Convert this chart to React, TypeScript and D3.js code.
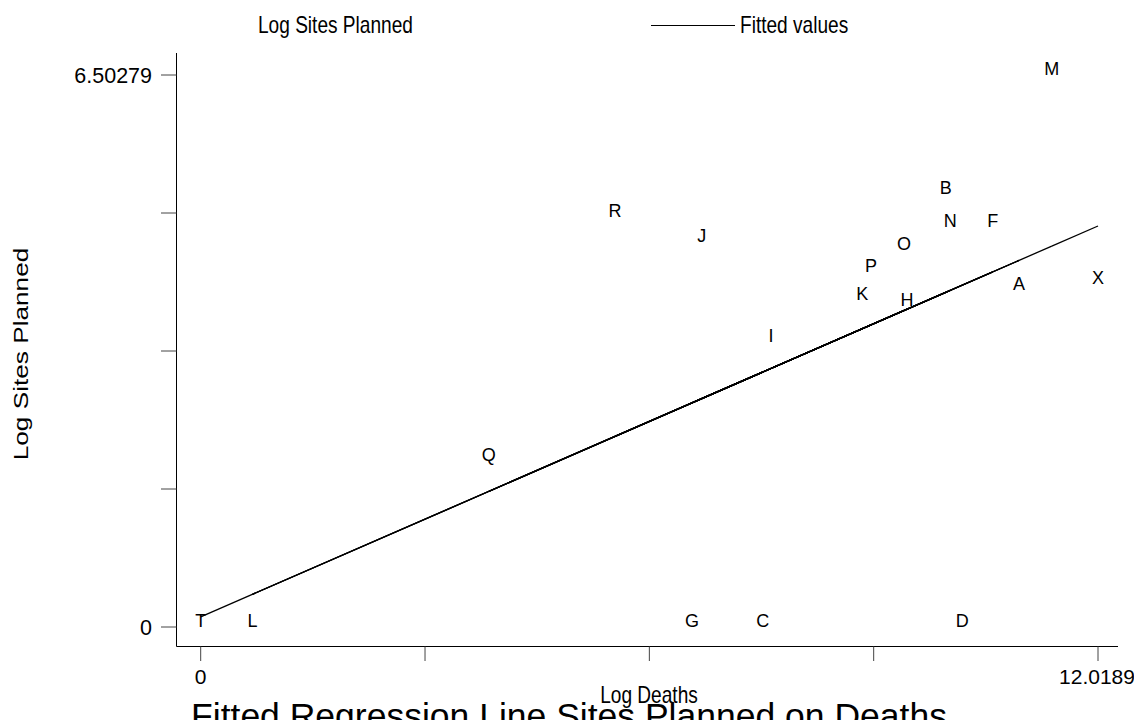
import React from "react";
import * as d3 from "d3";

// Observations in dataset row order (the fitted line is connected in this order)
const names = ["T", "F", "D", "Q", "B", "G", "N", "R", "O", "J", "H", "C", "P", "I", "K", "A", "L", "M", "X"];
const logDeaths = [0, 10.61, 10.2, 3.86, 9.98, 6.58, 10.04, 5.55, 9.42, 6.71, 9.46, 7.53, 8.98, 7.64, 8.86, 10.96, 0.693, 11.4, 12.0189];
const logSites = [0, 4.71, 0, 1.946, 5.1, 0, 4.71, 4.82, 4.43, 4.535, 3.78, 0, 4.18, 3.357, 3.852, 3.96, 0, 6.50279, 4.04];

const xTickLabels = ["0", "12.0189"];
const yTickLabels = ["0", "6.50279"];

const title = "Fitted Regression Line Sites Planned on Deaths";
const xTitle = "Log Deaths";
const yTitle = "Log Sites Planned";
const legendItems = ["Log Sites Planned", "Fitted values"];

const W = 1134;
const H = 720;
const FONT = "'Liberation Sans', Arial, Helvetica, sans-serif";
// the graph's text is set in a slightly condensed face
const SQUASH = 0.83;

export default function App() {
  const xMax = d3.max(logDeaths) as number;
  const yMax = d3.max(logSites) as number;

  const x = d3.scaleLinear().domain([0, xMax]).range([200.7, 1098]);
  const y = d3.scaleLinear().domain([0, yMax]).range([627, 75]);

  // Ordinary least squares of log sites on log deaths
  const mx = d3.mean(logDeaths) as number;
  const my = d3.mean(logSites) as number;
  const sxy = d3.sum(logDeaths, (d, i) => (d - mx) * (logSites[i] - my));
  const sxx = d3.sum(logDeaths, (d) => (d - mx) * (d - mx));
  const slope = sxy / sxx;
  const intercept = my - slope * mx;
  const fitted = logDeaths.map((d) => intercept + slope * d);

  // each consecutive pair of rows is its own stroke, so overlapping runs darken
  const segments = d3.pairs(d3.range(names.length));

  const xTicks = d3.range(5).map((i) => (xMax * i) / 4);
  const yTicks = d3.range(5).map((i) => (yMax * i) / 4);

  const axisLeft = 176.5;
  const axisBottom = 646.5;

  const condensed = (tx: number, ty: number) => `translate(${tx},${ty}) scale(${SQUASH},1)`;

  return (
    <svg
      width={W}
      height={H}
      style={{ position: "absolute", left: 0, top: 0, background: "#fff" }}
      fontFamily={FONT}
    >
      <rect width={W} height={H} fill="#fff" />

      {/* legend */}
      <text transform={condensed(258, 33)} fontSize={23} fill="#000">
        {legendItems[0]}
      </text>
      <line x1={651} x2={735} y1={25.5} y2={25.5} stroke="#000" strokeWidth={1} />
      <text transform={condensed(740, 33)} fontSize={23} fill="#000">
        {legendItems[1]}
      </text>

      {/* axes */}
      <line x1={axisLeft} x2={axisLeft} y1={53} y2={axisBottom} stroke="#000" strokeWidth={1} />
      <line x1={axisLeft} x2={1118} y1={axisBottom} y2={axisBottom} stroke="#000" strokeWidth={1} />

      {yTicks.map((t, i) => (
        <line key={"yt" + i} x1={161} x2={axisLeft} y1={y(t)} y2={y(t)} stroke="#444" strokeWidth={1} />
      ))}
      {xTicks.map((t, i) => (
        <line key={"xt" + i} x1={x(t)} x2={x(t)} y1={axisBottom} y2={661} stroke="#444" strokeWidth={1} />
      ))}

      <text x={152} y={y(0)} dy="0.36em" textAnchor="end" fontSize={21.5}>
        {yTickLabels[0]}
      </text>
      <text x={152} y={y(yMax)} dy="0.36em" textAnchor="end" fontSize={21.5}>
        {yTickLabels[1]}
      </text>
      <text x={x(0)} y={684} textAnchor="middle" fontSize={21}>
        {xTickLabels[0]}
      </text>
      <text x={x(xMax) - 1} y={684} textAnchor="middle" fontSize={21}>
        {xTickLabels[1]}
      </text>

      {/* axis titles */}
      <text transform={condensed(649, 703)} textAnchor="middle" fontSize={23}>
        {xTitle}
      </text>
      <text
        transform={`translate(28,354) rotate(-90) scale(1.31,1)`}
        textAnchor="middle"
        fontSize={20}
      >
        {yTitle}
      </text>

      {/* fitted line */}
      {segments.map(([a, b], i) => (
        <line
          key={"seg" + i}
          x1={x(logDeaths[a])}
          y1={y(fitted[a])}
          x2={x(logDeaths[b])}
          y2={y(fitted[b])}
          stroke="#000"
          strokeWidth={1.3}
        />
      ))}

      {/* observation labels */}
      {names.map((n, i) => (
        <text
          key={n}
          x={x(logDeaths[i])}
          y={y(logSites[i]) - 0.5}
          textAnchor="middle"
          fontSize={18}
          fill="#000"
        >
          {n}
        </text>
      ))}

      {/* title */}
      <text x={569} y={728} textAnchor="middle" fontSize={35.5}>
        {title}
      </text>
    </svg>
  );
}
